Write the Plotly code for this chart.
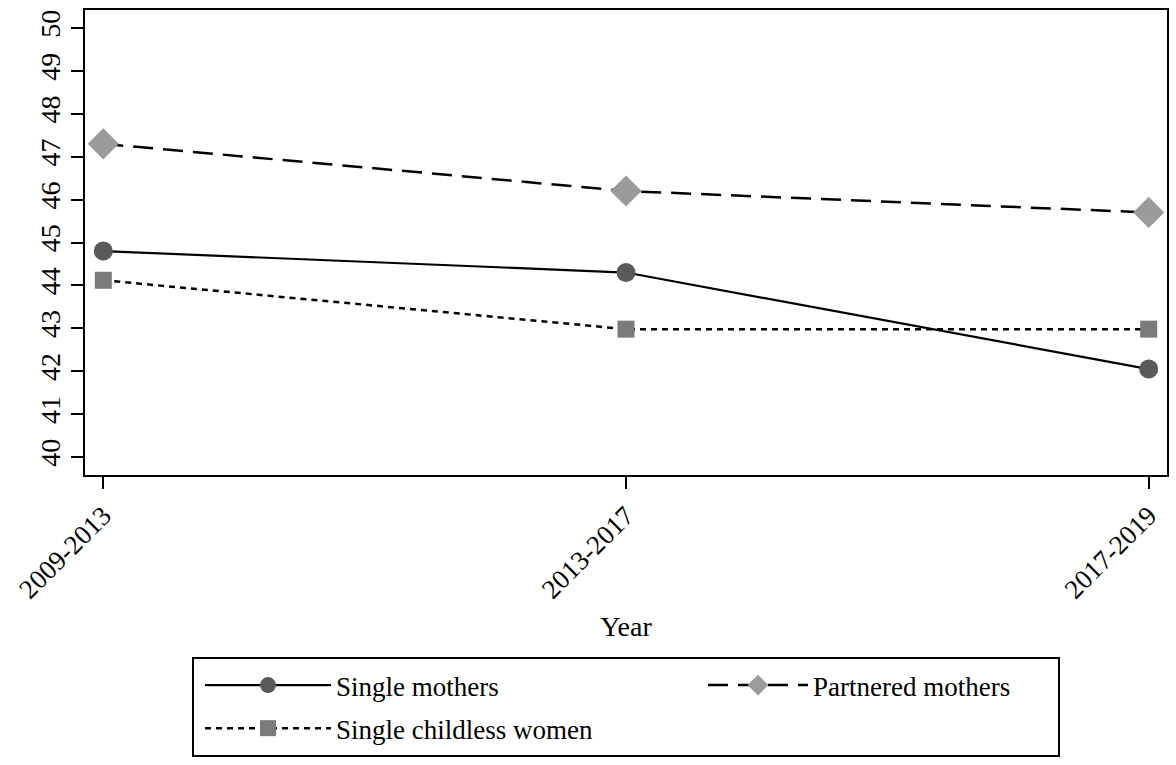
import plotly.graph_objects as go

years = ["2009-2013", "2013-2017", "2017-2019"]
single_mothers = [44.8, 44.3, 42.05]
partnered_mothers = [47.3, 46.2, 45.7]
single_childless = [44.12, 42.98, 42.98]
y_ticks = [40, 41, 42, 43, 44, 45, 46, 47, 48, 49, 50]

FONT = "Liberation Serif"
W, H = 1176, 765
L, R, T, B = 85, 9, 10, 290
PW, PH = W - L - R, H - T - B


def px_x(x):
    return (x - L) / PW


def px_y(y):
    return (H - B - y) / PH


fig = go.Figure()
fig.add_trace(go.Scatter(
    x=years, y=single_mothers, name="Single mothers", mode="lines+markers",
    line=dict(color="black", width=2.2, dash="solid"),
    marker=dict(symbol="circle", size=19, color="#5a5a5a"),
    legend="legend", legendgroup="a",
))
fig.add_trace(go.Scatter(
    x=years, y=partnered_mothers, name="Partnered mothers", mode="lines+markers",
    line=dict(color="black", width=2.5, dash="20px,10px"),
    marker=dict(symbol="diamond", size=24, color="#9b9b9b"),
    legend="legend2", legendgroup="b",
))
fig.add_trace(go.Scatter(
    x=years, y=single_childless, name="Single childless women", mode="lines+markers",
    line=dict(color="black", width=2.5, dash="6px,5px"),
    marker=dict(symbol="square", size=17, color="#7b7b7b"),
    legend="legend", legendgroup="c",
))

legend_common = dict(
    orientation="v", xanchor="left", yanchor="top",
    bgcolor="rgba(0,0,0,0)", borderwidth=0,
    font=dict(family=FONT, size=27, color="black"),
    traceorder="grouped", tracegroupgap=5,
)

fig.update_layout(
    width=W, height=H,
    margin=dict(l=L, r=R, t=T, b=B, autoexpand=False),
    paper_bgcolor="white", plot_bgcolor="white",
    font=dict(family=FONT, size=27, color="black"),
    showlegend=True,
    legend=dict(x=px_x(200), y=px_y(661), itemwidth=126, **legend_common),
    legend2=dict(x=px_x(703), y=px_y(661), itemwidth=100, **legend_common),
    shapes=[dict(type="rect", xref="paper", yref="paper",
                 x0=px_x(193), x1=px_x(1059),
                 y0=px_y(756), y1=px_y(658),
                 line=dict(color="black", width=2), fillcolor="rgba(0,0,0,0)")],
)

fig.update_xaxes(
    type="category", range=[-0.035, 2.035], automargin=False,
    showline=True, linewidth=2, linecolor="black", mirror=True,
    ticks="outside", ticklen=12, tickwidth=2, tickcolor="black",
    tickangle=-45, tickfont=dict(family=FONT, size=27),
    showgrid=False, zeroline=False,
    title=dict(text="Year", font=dict(family=FONT, size=28), standoff=13),
)
fig.update_yaxes(
    range=[39.58, 50.42], tickvals=y_ticks, automargin=False,
    showline=True, linewidth=2, linecolor="black", mirror=True,
    ticks="outside", ticklen=12, tickwidth=2, tickcolor="black",
    tickangle=-90, tickfont=dict(family=FONT, size=28),
    ticklabelstandoff=0,
    showgrid=False, zeroline=False,
)

fig.write_html("out.html", config={"displayModeBar": False},
               post_script="document.body.style.margin='0';")
